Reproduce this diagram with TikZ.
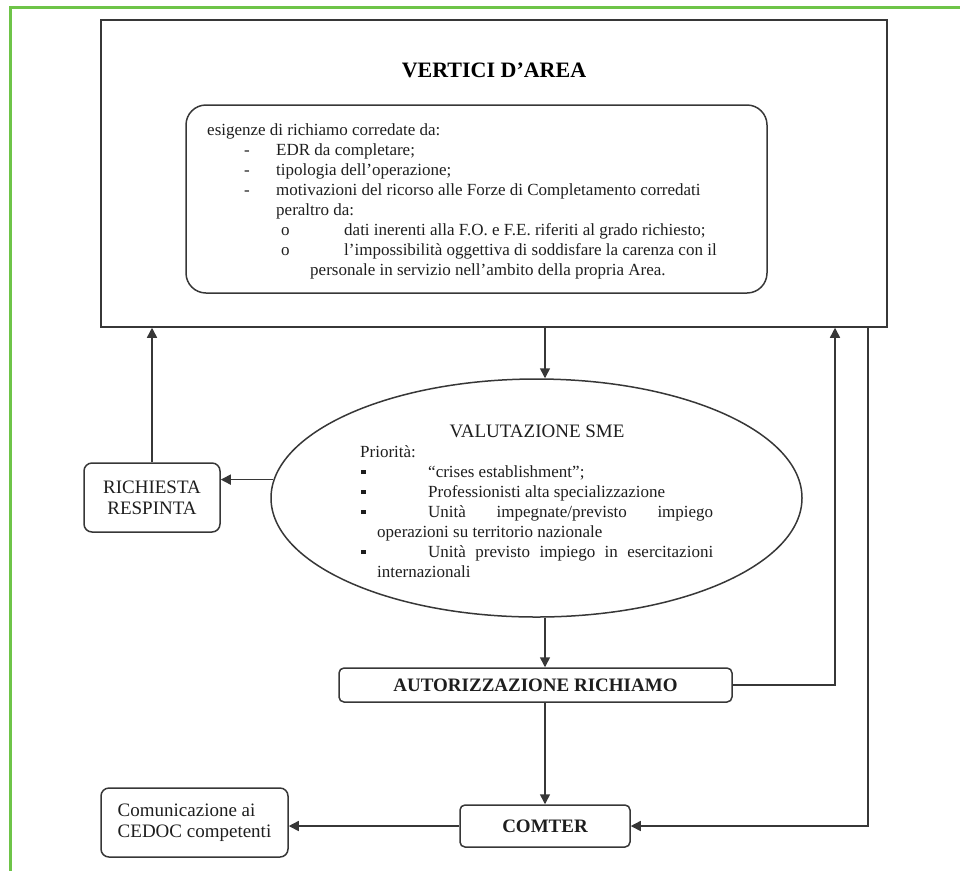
\documentclass[tikz,border=0pt]{standalone}
\usepackage{fontspec}
\setmainfont{Liberation Serif}
\usetikzlibrary{shapes.geometric,arrows.meta}
\definecolor{verde}{RGB}{110,196,72}
\definecolor{tratto}{RGB}{55,55,55}
\definecolor{testo}{RGB}{30,30,30}

\begin{document}
\begin{tikzpicture}[x=1pt,y=-1pt,
    bordo/.style={draw=tratto,line width=1.5pt,inner sep=0pt},
    freccia/.style={draw=tratto,line width=1.5pt,-{Triangle[width=10pt,length=10pt]}},
    riga/.style={anchor=base west,inner sep=0pt,text=testo,font=\fontsize{17}{20}\selectfont},
    etichetta/.style={bordo,rounded corners=8pt,text=testo,font=\fontsize{19}{21}\selectfont}]
\useasboundingbox (0,0) rectangle (960,871);

% cornice verde
\draw[verde,line width=3pt] (960,7)--(10,7)--(10,871);

% vertici d'area
\node (vertici) at (494,173.5) [bordo,minimum width=786pt,minimum height=307pt] {};
\node (titolo) at (494,77) [anchor=base,inner sep=0pt,text=black,font=\fontsize{22}{24}\selectfont\bfseries] {VERTICI D'AREA};
\node (riquadro) at (476.5,199) [bordo,rounded corners=20pt,minimum width=581pt,minimum height=188pt] {};

\node (e1) at (207,135.5) [riga] {esigenze di richiamo corredate da:};
\node (d1) at (244,155.5) [riga] {-};
\node (e2) at (276,155.5) [riga] {EDR da completare;};
\node (d2) at (244,175.5) [riga] {-};
\node (e3) at (276,175.5) [riga] {tipologia dell'operazione;};
\node (d3) at (244,195.5) [riga] {-};
\node (e4) at (276,195.5) [riga] {motivazioni del ricorso alle Forze di Completamento corredati};
\node (e5) at (276,215.5) [riga] {peraltro da:};
\node (o1) at (281,235.5) [riga] {o};
\node (e6) at (344,235.5) [riga] {dati inerenti alla F.O. e F.E. riferiti al grado richiesto;};
\node (o2) at (281,255.5) [riga] {o};
\node (e7) at (344,255.5) [riga] {l'impossibilità oggettiva di soddisfare la carenza con il};
\node (e8) at (310,275.5) [riga] {personale in servizio nell'ambito della propria Area.};

% valutazione
\node (valutazione) at (536.5,498) [bordo,ellipse,minimum width=531pt,minimum height=238pt] {};
\node (titolo2) at (537,437.5) [anchor=base,inner sep=0pt,text=testo,font=\fontsize{19}{21}\selectfont] {VALUTAZIONE SME};
\node (p1) at (360,457) [riga] {Priorità:};
\node (b1) at (361,477) [riga] {\rule[3pt]{4.5pt}{4.5pt}};
\node (p2) at (428,477) [riga] {``crises establishment'';};
\node (b2) at (361,497) [riga] {\rule[3pt]{4.5pt}{4.5pt}};
\node (p3) at (428,497) [riga] {Professionisti alta specializzazione};
\node (b3) at (361,517) [riga] {\rule[3pt]{4.5pt}{4.5pt}};
\node (p4) at (428,517) [riga] {\makebox[285pt][s]{Unità impegnate/previsto impiego}};
\node (p5) at (377,537) [riga] {operazioni su territorio nazionale};
\node (b4) at (361,557) [riga] {\rule[3pt]{4.5pt}{4.5pt}};
\node (p6) at (428,557) [riga] {\makebox[285pt][s]{Unità previsto impiego in esercitazioni}};
\node (p7) at (377,577) [riga] {internazionali};

% esiti
\node (respinta) at (152,497.5) [etichetta,align=center,minimum width=136pt,minimum height=69pt] {RICHIESTA\\RESPINTA};
\node (autorizzazione) at (535.5,685) [etichetta,rounded corners=5pt,minimum width=393pt,minimum height=34pt,font=\fontsize{19}{21}\selectfont\bfseries] {AUTORIZZAZIONE RICHIAMO};
\node (comter) at (545,826) [etichetta,rounded corners=5pt,minimum width=170pt,minimum height=42pt,font=\fontsize{19}{21}\selectfont\bfseries] {COMTER};
\node (comunicazione) at (194.5,822.5) [etichetta,align=left,minimum width=187pt,minimum height=69pt] {Comunicazione ai\\CEDOC competenti};

\coordinate (ritorno) at (835,685);
\coordinate (invio) at (868,822);

% collegamenti
\draw[freccia] (vertici.south -| comter) -- (valutazione.north -| comter);
\draw[freccia] (valutazione.south -| comter) -- (autorizzazione.north -| comter);
\draw[freccia] (autorizzazione.south -| comter) -- (comter.north);
\draw[freccia] (valutazione.176) -- (valutazione.176 -| respinta.east);
\draw[freccia] (respinta.north) -- (respinta.north |- vertici.south);
\draw[freccia] (autorizzazione.east) -| (ritorno |- vertici.south);
\draw[freccia] (vertici.south -| invio) |- (comter.east);
\draw[freccia] (comter.west) -- (comter.west -| comunicazione.east);

\end{tikzpicture}
\end{document}
